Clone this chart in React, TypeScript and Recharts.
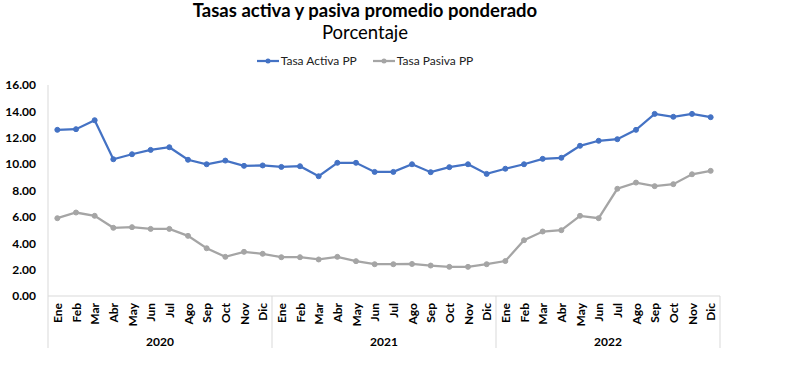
import { ComposedChart, Legend, Line, XAxis, YAxis } from "recharts";

const months = ["Ene", "Feb", "Mar", "Abr", "May", "Jun", "Jul", "Ago", "Sep", "Oct", "Nov", "Dic"];
const years = ["2020", "2021", "2022"];

const tasaActiva = [
  12.6, 12.65, 13.33, 10.37, 10.75, 11.08, 11.28, 10.33, 9.99, 10.27, 9.87, 9.9,
  9.79, 9.84, 9.08, 10.1, 10.1, 9.41, 9.41, 9.99, 9.39, 9.77, 9.99, 9.26,
  9.65, 9.99, 10.4, 10.48, 11.39, 11.77, 11.89, 12.6, 13.81, 13.59, 13.81, 13.56,
];

const tasaPasiva = [
  5.9, 6.33, 6.08, 5.17, 5.22, 5.09, 5.09, 4.56, 3.62, 2.97, 3.35, 3.2,
  2.94, 2.94, 2.77, 2.97, 2.64, 2.41, 2.41, 2.43, 2.31, 2.21, 2.21, 2.41,
  2.65, 4.23, 4.89, 4.99, 6.08, 5.9, 8.13, 8.6, 8.33, 8.48, 9.23, 9.49,
];

const yTicks = [0, 2, 4, 6, 8, 10, 12, 14, 16];

const rows = years.flatMap((year, yi) =>
  months.map((month, mi) => ({
    key: `${year}-${month}`,
    year,
    month,
    activa: tasaActiva[yi * 12 + mi],
    pasiva: tasaPasiva[yi * 12 + mi],
  }))
);

const BLUE = "#4472C4";
const GRAY = "#A5A5A5";
const AXIS = "#D9D9D9";
const FONT = "Lato, 'Noto Sans', sans-serif";

function MonthTick(props: any) {
  const { x, y, index, payload } = props;
  const row = rows[index];
  const half = payload?.offset ?? 0;
  const sepLen = 52;
  return (
    <g>
      <text
        transform={`translate(${x},${y + 7}) rotate(-90)`}
        textAnchor="end"
        dominantBaseline="central"
        fontFamily={FONT}
        fontWeight={700}
        fontSize={12}
        fill="#000"
      >
        {row.month}
      </text>
      {index % 12 === 0 && (
        <line x1={x - half} x2={x - half} y1={y} y2={y + sepLen} stroke={AXIS} />
      )}
      {index === rows.length - 1 && (
        <line x1={x + half} x2={x + half} y1={y} y2={y + sepLen} stroke={AXIS} />
      )}
      {index % 12 === 6 && (
        <text
          x={x - half}
          y={y + 45}
          textAnchor="middle"
          dominantBaseline="central"
          fontFamily={FONT}
          fontWeight={700}
          fontSize={12}
          fill="#000"
        >
          {row.year}
        </text>
      )}
    </g>
  );
}

function LegendItem({ color, label }: { color: string; label: string }) {
  return (
    <span style={{ display: "inline-flex", alignItems: "center", margin: "0 8px" }}>
      <svg width={22} height={8} style={{ marginRight: 2 }}>
        <line x1={0} x2={22} y1={4} y2={4} stroke={color} strokeWidth={2.25} />
        <circle cx={11} cy={4} r={2.5} fill={color} />
      </svg>
      {label}
    </span>
  );
}

function Header() {
  return (
    <div style={{ position: "relative", width: 730, height: 85, fontFamily: FONT, color: "#000" }}>
      <div
        style={{
          position: "absolute",
          top: 0,
          width: "100%",
          textAlign: "center",
          fontWeight: 700,
          fontSize: 18.5,
          lineHeight: "21px",
        }}
      >
        Tasas activa y pasiva promedio ponderado
      </div>
      <div
        style={{
          position: "absolute",
          top: 22,
          width: "100%",
          textAlign: "center",
          fontSize: 18.5,
          lineHeight: "20px",
        }}
      >
        Porcentaje
      </div>
      <div
        style={{
          position: "absolute",
          top: 53,
          width: "100%",
          textAlign: "center",
          fontSize: 12,
          lineHeight: "16px",
          color: "#222",
        }}
      >
        <LegendItem color={BLUE} label="Tasa Activa PP" />
        <LegendItem color={GRAY} label="Tasa Pasiva PP" />
      </div>
    </div>
  );
}

export default function App() {
  return (
    <div style={{ position: "absolute", left: 0, top: 0, width: 810, height: 374, background: "#fff" }}>
      <ComposedChart
        width={810}
        height={374}
        data={rows}
        margin={{ top: 0, right: 90, left: 0, bottom: 26 }}
        style={{ fontFamily: FONT }}
      >
        <Legend
          verticalAlign="top"
          align="left"
          wrapperStyle={{ left: 0, top: 0, width: 730 }}
          content={() => <Header />}
        />
        <XAxis
          dataKey="key"
          scale="band"
          interval={0}
          height={52}
          tickLine={false}
          tickSize={0}
          tickMargin={0}
          axisLine={{ stroke: AXIS }}
          tick={<MonthTick />}
        />
        <YAxis
          width={48}
          domain={[0, 16]}
          ticks={yTicks}
          tickFormatter={(v: number) => v.toFixed(2)}
          tickLine={false}
          tickMargin={6}
          axisLine={{ stroke: AXIS }}
          tick={{ fill: "#000", fontWeight: 700, fontSize: 12, fontFamily: FONT }}
        />
        <Line
          dataKey="activa"
          name="Tasa Activa PP"
          stroke={BLUE}
          strokeWidth={2.25}
          dot={{ r: 2.5, fill: BLUE, stroke: BLUE, strokeWidth: 1 }}
          activeDot={false}
          isAnimationActive={false}
        />
        <Line
          dataKey="pasiva"
          name="Tasa Pasiva PP"
          stroke={GRAY}
          strokeWidth={2.25}
          dot={{ r: 2.5, fill: GRAY, stroke: GRAY, strokeWidth: 1 }}
          activeDot={false}
          isAnimationActive={false}
        />
      </ComposedChart>
    </div>
  );
}
